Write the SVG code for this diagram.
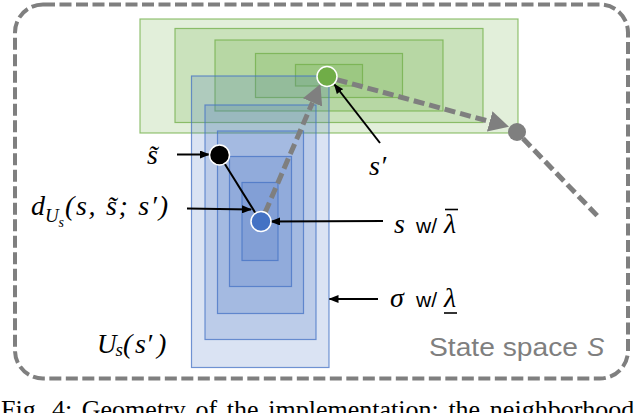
<svg xmlns="http://www.w3.org/2000/svg" width="640" height="413" viewBox="0 0 640 413">
<style>
.g rect{fill:#70ad47;fill-opacity:.2;stroke:#70ad47;stroke-opacity:.75;stroke-width:1.2}
.b rect{fill:#4472c4;fill-opacity:.2;stroke:#4472c4;stroke-opacity:.75;stroke-width:1.2}
.m{font-family:"Liberation Serif","Times New Roman",serif;font-style:italic;fill:#000}
.w{font-family:"Liberation Sans",Arial,sans-serif;fill:#000;font-style:normal}
.dash{fill:none;stroke:#7f7f7f;stroke-width:5;stroke-dasharray:11 5}
.arr{fill:none;stroke:#000;stroke-width:2}
.bar{stroke:#000;stroke-width:1.6}
</style>
<defs>
<marker id="ah" markerUnits="userSpaceOnUse" markerWidth="10" markerHeight="8" refX="9" refY="4" orient="auto"><path d="M0,0 L10,4 L0,8 z" fill="#000"/></marker>
<marker id="gh" markerUnits="userSpaceOnUse" markerWidth="20" markerHeight="21" refX="0" refY="10.5" orient="auto"><path d="M0,0 L20,10.5 L0,21 z" fill="#7f7f7f"/></marker>
</defs>
<rect id="state-space" x="15" y="4.5" width="613" height="374" rx="28" fill="none" stroke="#7f7f7f" stroke-width="4" stroke-dasharray="12 4.5"/>
<g id="green-neighborhood" class="g">
<rect x="140" y="19" width="378" height="114"/>
<rect x="175" y="28.5" width="308" height="94"/>
<rect x="215" y="40" width="228" height="71"/>
<rect x="255.5" y="53.5" width="147" height="44"/>
<rect x="295.5" y="64.5" width="67" height="21.5"/>
</g>
<g id="blue-neighborhood" class="b">
<rect x="191.5" y="76" width="137.5" height="291.5"/>
<rect x="205" y="105" width="111" height="234.5"/>
<rect x="217.5" y="131" width="86" height="182.5"/>
<rect x="229.5" y="156.5" width="62" height="130"/>
<rect x="242" y="182.5" width="36" height="78"/>
</g>
<g id="connectors">
<line class="dash" x1="265" y1="212.8" x2="312.5" y2="102.4" marker-end="url(#gh)"/>
<line class="dash" x1="336.6" y1="79.6" x2="489.7" y2="121.5" marker-end="url(#gh)"/>
<line class="dash" x1="523" y1="138.5" x2="597.5" y2="216"/>
<line class="arr" x1="223" y1="161" x2="256" y2="214"/>
<line class="arr" x1="177" y1="154.5" x2="209" y2="154.5" marker-end="url(#ah)"/>
<line class="arr" x1="187" y1="208.5" x2="251" y2="209.5" marker-end="url(#ah)"/>
<line class="arr" x1="383" y1="221" x2="271" y2="221.5" marker-end="url(#ah)"/>
<line class="arr" x1="378" y1="299" x2="329.5" y2="299" marker-end="url(#ah)"/>
<line class="arr" x1="380" y1="143" x2="334.5" y2="84.5" marker-end="url(#ah)"/>
</g>
<g id="node-s-prime">
<circle cx="327" cy="76.5" r="10" fill="#70ad47" stroke="#fff" stroke-width="1.5"/>
<text class="m" x="369" y="175" font-size="28">s′</text>
</g>
<g id="node-s-tilde">
<circle cx="219.5" cy="155" r="10" fill="#000" stroke="#fff" stroke-width="1.5"/>
<text class="m" x="147" y="164" font-size="28">s̃</text>
</g>
<g id="node-s">
<circle cx="261" cy="221.5" r="10" fill="#4472c4" stroke="#fff" stroke-width="1.5"/>
<text x="394" y="233"><tspan class="m" font-size="28">s</tspan><tspan class="w" x="416" font-size="21" textLength="21">w/</tspan><tspan class="m" x="444" font-size="28">λ</tspan></text>
<line class="bar" x1="445" y1="209.5" x2="458" y2="209.5"/>
</g>
<g id="node-next">
<circle cx="517" cy="132" r="9" fill="#7f7f7f"/>
</g>
<g id="label-distance">
<text class="m" y="215"><tspan x="31" font-size="28">d</tspan><tspan x="45" y="222" font-size="19">U</tspan><tspan x="58.5" y="227" font-size="14">s</tspan><tspan x="65" y="215" font-size="28" textLength="103" lengthAdjust="spacing">(s, s̃; s′)</tspan></text>
</g>
<g id="label-sigma">
<text x="390" y="307"><tspan class="m" font-size="28">σ</tspan><tspan class="w" x="416" font-size="21" textLength="21">w/</tspan><tspan class="m" x="444" font-size="28">λ</tspan></text>
<line class="bar" x1="444" y1="313" x2="457" y2="313"/>
</g>
<g id="label-U">
<text class="m" y="353" font-size="28"><tspan x="97" font-size="27">U</tspan><tspan x="115.5" y="356" font-size="19">s</tspan><tspan x="123" y="353">(</tspan><tspan x="135">s′</tspan><tspan x="157">)</tspan></text>
</g>
<text x="429" y="356" font-family="Liberation Sans, Arial, sans-serif" font-size="26" fill="#7f7f7f"><tspan textLength="149" lengthAdjust="spacingAndGlyphs">State space</tspan><tspan x="587" font-style="italic">S</tspan></text>
<text x="1" y="418" font-family="Liberation Serif, Times New Roman, serif" font-size="26" word-spacing="3.2" fill="#000">Fig. 4: Geometry of the implementation: the neighborhood</text>
</svg>
